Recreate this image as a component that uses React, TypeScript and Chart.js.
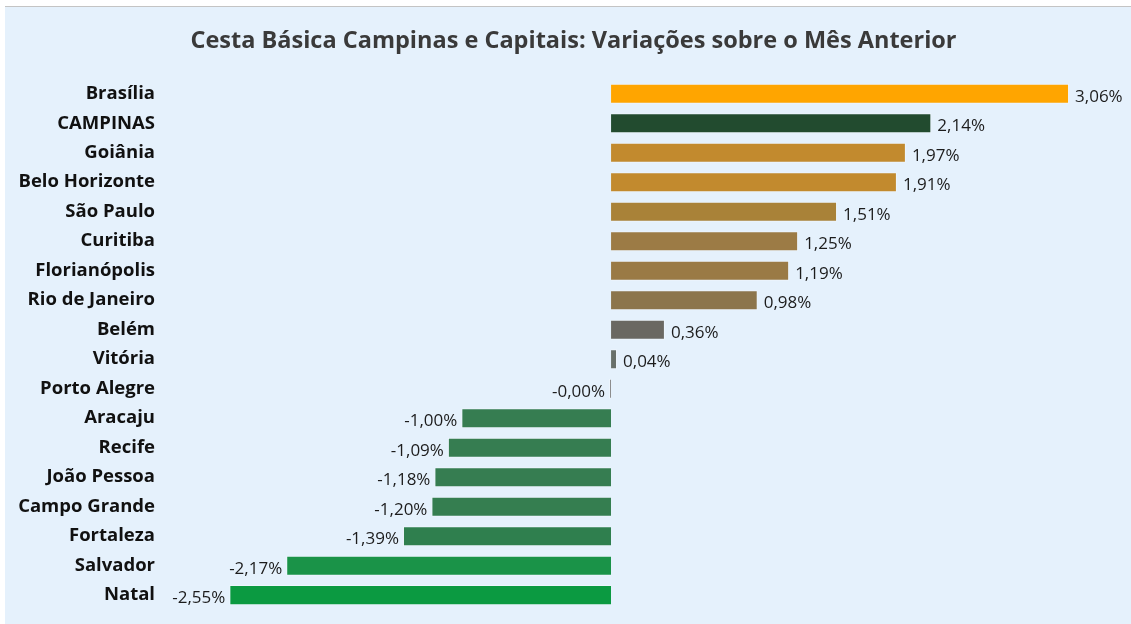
import React, { useEffect, useRef } from "react";
import { Chart, registerables } from "chart.js";

Chart.register(...registerables);

const titleText = "Cesta Básica Campinas e Capitais: Variações sobre o Mês Anterior";

const cities = [
  "Brasília", "CAMPINAS", "Goiânia", "Belo Horizonte", "São Paulo", "Curitiba",
  "Florianópolis", "Rio de Janeiro", "Belém", "Vitória", "Porto Alegre", "Aracaju",
  "Recife", "João Pessoa", "Campo Grande", "Fortaleza", "Salvador", "Natal",
];

const variations = [
  3.06, 2.14, 1.97, 1.91, 1.51, 1.25, 1.19, 0.98, 0.36, 0.04, -0.004, -1.0,
  -1.09, -1.18, -1.2, -1.39, -2.17, -2.55,
];

const barColors = [
  "#FFA500", "#224B2F", "#C28A2E", "#C28A2E", "#A98238", "#9C7B45",
  "#9A7A45", "#8C754C", "#6A6862", "#68706A", "#8A8A8A", "#367D51",
  "#367D51", "#367D51", "#357E50", "#2F7F4E", "#1A9348", "#0B9A41",
];

const FONT = "'Open Sans', 'Noto Sans', sans-serif";

const fmt = (v: number) => v.toFixed(2).replace(".", ",") + "%";

const valueLabels = {
  id: "valueLabels",
  afterDatasetsDraw(chart: any) {
    const ctx = chart.ctx;
    const meta = chart.getDatasetMeta(0);
    ctx.save();
    ctx.font = `17px ${FONT}`;
    ctx.fillStyle = "#1c1c1c";
    ctx.textBaseline = "middle";
    meta.data.forEach((bar: any, i: number) => {
      const v = variations[i];
      const txt = fmt(v);
      if (v >= 0) {
        ctx.textAlign = "left";
        ctx.fillText(txt, bar.x + 6, bar.y + 3);
      } else {
        ctx.textAlign = "right";
        ctx.fillText(txt, bar.x - 4, bar.y + 3);
      }
    });
    // title
    ctx.font = `bold 23.5px ${FONT}`;
    ctx.fillStyle = "#3a3a3a";
    ctx.textAlign = "center";
    ctx.textBaseline = "middle";
    ctx.fillText(titleText, 568.5, 34);
    ctx.restore();
  },
};

export default function App() {
  const ref = useRef<HTMLCanvasElement | null>(null);

  useEffect(() => {
    document.body.style.margin = "0";
    document.body.style.background = "#ffffff";
    document.body.style.overflow = "hidden";
    if (!ref.current) return;
    const chart = new Chart(ref.current, {
      type: "bar",
      data: {
        labels: cities,
        datasets: [
          {
            data: variations,
            backgroundColor: barColors,
            borderColor: "rgba(255,255,255,0.35)",
            borderWidth: 1,
            minBarLength: 2,
            categoryPercentage: 1,
            barPercentage: 0.68,
          },
        ],
      },
      plugins: [valueLabels],
      options: {
        indexAxis: "y",
        animation: false,
        responsive: false,
        maintainAspectRatio: false,
        layout: { padding: { left: 0, right: 41, top: 72, bottom: 0 } },
        plugins: {
          legend: { display: false },
          tooltip: { enabled: false },
          title: { display: false },
        },
        scales: {
          x: {
            display: false,
            min: -3,
            max: 3.2,
          },
          y: {
            grid: { display: false, drawTicks: false },
            border: { display: false },
            afterFit: (scale: any) => {
              scale.width = 157;
            },
            ticks: {
              color: "#111111",
              padding: 7,
              autoSkip: false,
              font: { family: FONT, size: 18.5, weight: "bold" },
            },
          },
        },
      },
    });
    return () => chart.destroy();
  }, []);

  return (
    <div
      style={{
        position: "absolute",
        left: 5,
        top: 6,
        width: 1126,
        height: 617,
        overflow: "hidden",
        background: "#E5F1FC",
        borderTop: "1px solid #c4c4c4",
      }}
    >
      <canvas ref={ref} width={1126} height={621} style={{ display: "block" }} />
    </div>
  );
}
